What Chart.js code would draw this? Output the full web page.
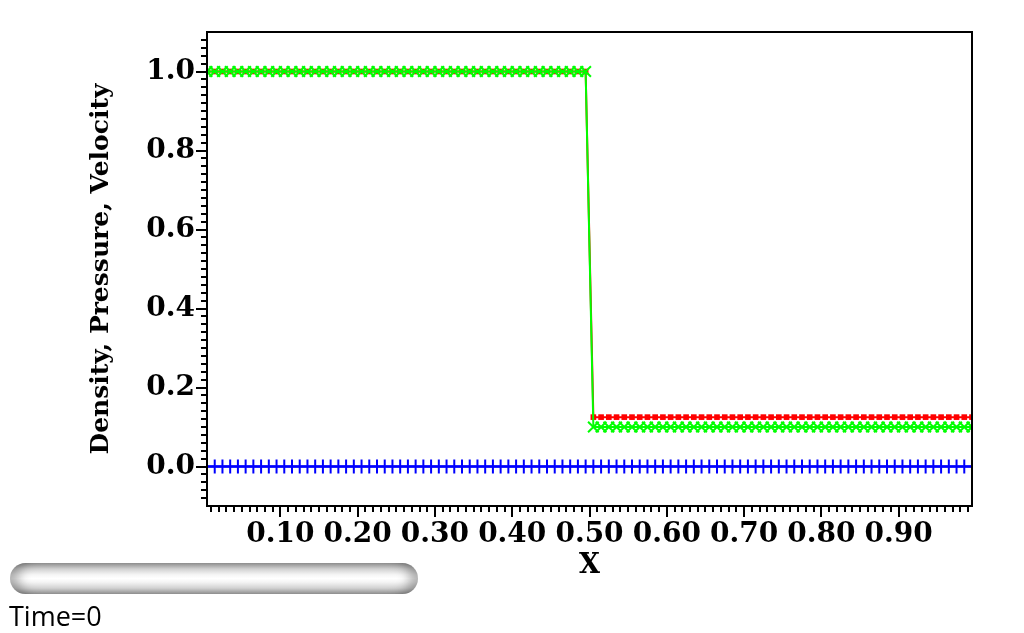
<!DOCTYPE html>
<html>
<head>
<meta charset="utf-8">
<script src="https://cdn.jsdelivr.net/npm/chart.js@4/dist/chart.umd.min.js"></script>
<style>
  html, body { margin: 0; padding: 0; background: #ffffff; }
  #wrap { position: relative; width: 1024px; height: 633px; overflow: hidden; }
  #c { position: absolute; left: 0; top: 0; }
  #slider {
    position: absolute; left: 10px; top: 563px; width: 408px; height: 31px;
    border-radius: 16px;
    background: linear-gradient(to bottom, #9a9a9a 0%, #cfcfcf 18%, #f6f6f6 38%, #ffffff 50%, #f4f4f4 62%, #d0d0d0 82%, #9a9a9a 100%);
    box-shadow: inset 14px 0 12px -6px rgba(0,0,0,0.3), inset -14px 0 12px -6px rgba(0,0,0,0.3);
  }
  #time {
    position: absolute; left: 9px; top: 598px;
    font-family: "Open Sans", "Liberation Sans", sans-serif; font-weight: 400;
    font-size: 27px; color: #000; line-height: 36px;
  }
</style>
</head>
<body>
<div id="wrap">
  <canvas id="c" width="1024" height="633"></canvas>
  <div id="slider"></div>
  <div id="time">Time=0</div>
</div>
<script>
// ---- data (Sod shock tube, t = 0) ----
const xValues = [
  0.005,0.015,0.025,0.035,0.045,0.055,0.065,0.075,0.085,0.095,
  0.105,0.115,0.125,0.135,0.145,0.155,0.165,0.175,0.185,0.195,
  0.205,0.215,0.225,0.235,0.245,0.255,0.265,0.275,0.285,0.295,
  0.305,0.315,0.325,0.335,0.345,0.355,0.365,0.375,0.385,0.395,
  0.405,0.415,0.425,0.435,0.445,0.455,0.465,0.475,0.485,0.495,
  0.505,0.515,0.525,0.535,0.545,0.555,0.565,0.575,0.585,0.595,
  0.605,0.615,0.625,0.635,0.645,0.655,0.665,0.675,0.685,0.695,
  0.705,0.715,0.725,0.735,0.745,0.755,0.765,0.775,0.785,0.795,
  0.805,0.815,0.825,0.835,0.845,0.855,0.865,0.875,0.885,0.895,
  0.905,0.915,0.925,0.935,0.945,0.955,0.965,0.975,0.985,0.995
];
const density = [
  1,1,1,1,1,1,1,1,1,1,
  1,1,1,1,1,1,1,1,1,1,
  1,1,1,1,1,1,1,1,1,1,
  1,1,1,1,1,1,1,1,1,1,
  1,1,1,1,1,1,1,1,1,1,
  0.125,0.125,0.125,0.125,0.125,0.125,0.125,0.125,0.125,0.125,
  0.125,0.125,0.125,0.125,0.125,0.125,0.125,0.125,0.125,0.125,
  0.125,0.125,0.125,0.125,0.125,0.125,0.125,0.125,0.125,0.125,
  0.125,0.125,0.125,0.125,0.125,0.125,0.125,0.125,0.125,0.125,
  0.125,0.125,0.125,0.125,0.125,0.125,0.125,0.125,0.125,0.125
];
const pressure = [
  1,1,1,1,1,1,1,1,1,1,
  1,1,1,1,1,1,1,1,1,1,
  1,1,1,1,1,1,1,1,1,1,
  1,1,1,1,1,1,1,1,1,1,
  1,1,1,1,1,1,1,1,1,1,
  0.1,0.1,0.1,0.1,0.1,0.1,0.1,0.1,0.1,0.1,
  0.1,0.1,0.1,0.1,0.1,0.1,0.1,0.1,0.1,0.1,
  0.1,0.1,0.1,0.1,0.1,0.1,0.1,0.1,0.1,0.1,
  0.1,0.1,0.1,0.1,0.1,0.1,0.1,0.1,0.1,0.1,
  0.1,0.1,0.1,0.1,0.1,0.1,0.1,0.1,0.1,0.1
];
const velocity = [
  0,0,0,0,0,0,0,0,0,0,
  0,0,0,0,0,0,0,0,0,0,
  0,0,0,0,0,0,0,0,0,0,
  0,0,0,0,0,0,0,0,0,0,
  0,0,0,0,0,0,0,0,0,0,
  0,0,0,0,0,0,0,0,0,0,
  0,0,0,0,0,0,0,0,0,0,
  0,0,0,0,0,0,0,0,0,0,
  0,0,0,0,0,0,0,0,0,0,
  0,0,0,0,0,0,0,0,0,0
];
const xTickLabels = [0.1, 0.2, 0.3, 0.4, 0.5, 0.6, 0.7, 0.8, 0.9];
const yTickLabels = [0.0, 0.2, 0.4, 0.6, 0.8, 1.0];
const xRange = [0.005, 0.995];
const yRange = [-0.1, 1.1];
const xTitle = 'X';
const yTitle = 'Density, Pressure, Velocity';

const pts = (ys) => xValues.map((x, i) => ({ x: x, y: ys[i] }));
const serif = '"DejaVu Serif", "Liberation Serif", serif';

// frame + major/minor tick marks drawn from the library's scales
const framePlugin = {
  id: 'frame',
  afterDraw(chart) {
    const { ctx, chartArea: a, scales: { x, y } } = chart;
    ctx.save();
    ctx.strokeStyle = '#000';
    ctx.lineWidth = 2;
    ctx.beginPath();
    for (let k = 1; k < 100; k++) {
      const v = k / 100;
      if (v < xRange[0] || v > xRange[1]) continue;
      const px = Math.round(x.getPixelForValue(v));
      const len = (k % 10 === 0) ? 11 : 6;
      ctx.moveTo(px, a.bottom);
      ctx.lineTo(px, a.bottom + len);
    }
    for (let k = -4; k <= 54; k++) {
      const v = k / 50;
      const py = Math.round(y.getPixelForValue(v));
      const len = (k % 10 === 0) ? 11 : 6;
      ctx.moveTo(a.left, py);
      ctx.lineTo(a.left - len, py);
    }
    ctx.stroke();
    ctx.strokeRect(a.left, a.top, a.right - a.left, a.bottom - a.top);
    ctx.restore();
  }
};

new Chart(document.getElementById('c'), {
  type: 'line',
  data: {
    datasets: [
      {
        label: 'Pressure', data: pts(pressure), order: 0,
        borderColor: '#00ff00', backgroundColor: '#00ff00', borderWidth: 2,
        pointStyle: 'crossRot', pointRadius: 7.5, pointBorderWidth: 2,
        pointBorderColor: '#00ff00', tension: 0
      },
      {
        label: 'Density', data: pts(density), order: 1,
        borderColor: '#ff0000', backgroundColor: '#ff0000', borderWidth: 2,
        pointStyle: 'rect', pointRadius: 4, pointBorderWidth: 0,
        tension: 0
      },
      {
        label: 'Velocity', data: pts(velocity), order: 2,
        borderColor: '#0000ff', backgroundColor: '#0000ff', borderWidth: 2,
        pointStyle: 'cross', pointRadius: 7, pointBorderWidth: 2,
        pointBorderColor: '#0000ff', tension: 0
      }
    ]
  },
  options: {
    responsive: false,
    animation: false,
    devicePixelRatio: 1,
    layout: { padding: { left: 0, right: 52, top: 32, bottom: 0 } },
    plugins: { legend: { display: false }, tooltip: { enabled: false } },
    scales: {
      x: {
        type: 'linear', position: 'bottom',
        min: xRange[0], max: xRange[1],
        grid: { display: false, drawTicks: false },
        border: { display: false },
        afterBuildTicks: (s) => { s.ticks = xTickLabels.map(v => ({ value: v })); },
        afterFit: (s) => { s.height = 127; },
        ticks: {
          autoSkip: false, maxRotation: 0, padding: 12, color: '#000',
          font: { family: serif, size: 28, weight: 'bold' },
          callback: (v) => Number(v).toFixed(2)
        },
        title: {
          display: true, text: xTitle, color: '#000',
          font: { family: serif, size: 27, weight: 'bold' },
          padding: { top: 0, bottom: 51 }
        }
      },
      y: {
        type: 'linear', position: 'left',
        min: yRange[0], max: yRange[1],
        grid: { display: false, drawTicks: false },
        border: { display: false },
        afterBuildTicks: (s) => { s.ticks = yTickLabels.map(v => ({ value: v })); },
        afterFit: (s) => { s.width = 207; },
        ticks: {
          autoSkip: false, padding: 12, color: '#000',
          font: { family: serif, size: 28, weight: 'bold' },
          callback: (v) => Number(v).toFixed(1)
        },
        title: {
          display: true, text: yTitle, color: '#000',
          font: { family: serif, size: 25, weight: 'bold' },
          padding: { top: 86, bottom: 0 }
        }
      }
    }
  },
  plugins: [framePlugin]
});
</script>
</body>
</html>
